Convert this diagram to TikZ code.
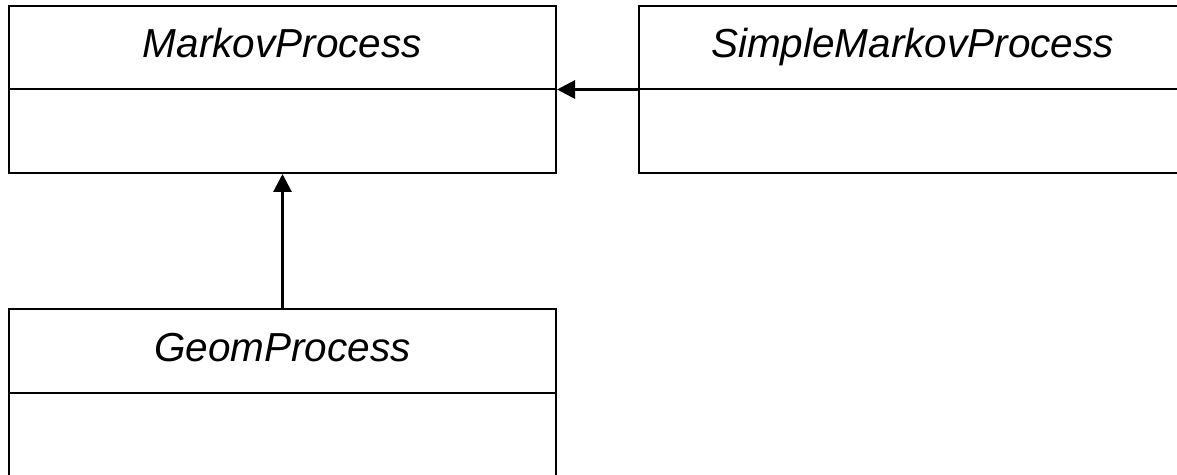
\documentclass[tikz,border=0pt]{standalone}
\usepackage{fontspec}
\setmainfont{Liberation Sans}
\usetikzlibrary{arrows.meta}
\begin{document}
\begin{tikzpicture}[x=1pt,y=1pt,
  classbox/.style={draw=black,line width=2pt,minimum width=547pt,minimum height=167pt,inner sep=0pt,anchor=center},
  titletext/.style={font=\fontsize{40.5}{48}\selectfont\itshape,anchor=base,inner sep=0pt},
  divider/.style={line width=2pt},
  inherit/.style={line width=3pt,-{Triangle[length=18pt,width=18pt]}}]
\useasboundingbox (0,0) rectangle (1177,474);
\clip (0,0) rectangle (1177,474);
\node[classbox] (markov) at (282.5,384.5) {};
\node[classbox] (simple) at (912.5,384.5) {};
\node[classbox] (geom) at (282.5,81.5) {};
\draw[divider] (markov.west) -- (markov.east);
\draw[divider] (simple.west) -- (simple.east);
\draw[divider] (geom.west) -- (geom.east);
\node[titletext] (tmarkov) at ([yshift=-53pt]markov.north) {MarkovProcess};
\node[titletext] (tsimple) at ([yshift=-53pt]simple.north) {SimpleMarkovProcess};
\node[titletext] (tgeom) at ([yshift=-53pt]geom.north) {GeomProcess};
\draw[inherit] (simple.west) -- (markov.east);
\draw[inherit] (geom.north) -- (markov.south);
\end{tikzpicture}
\end{document}
